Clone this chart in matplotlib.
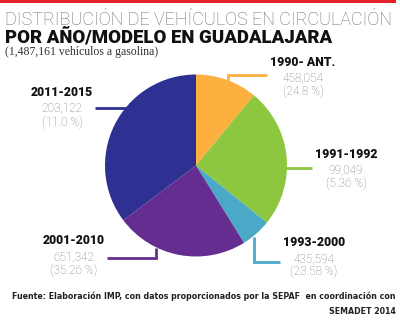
import matplotlib
matplotlib.use("Agg")
import matplotlib.pyplot as plt

# ---- data ----
slice_values = [203122, 458054, 99049, 435594, 651342]   # clockwise from top, as drawn
slice_colors = ["#FBB040", "#8DC63F", "#4BA9C8", "#662D91", "#2E3192"]
label_years = ["1990- ANT.", "1991-1992", "1993-2000", "2001-2010", "2011-2015"]
label_counts = ["458,054", "99,049", "435,594", "651,342", "203,122"]
label_pcts = ["(24.8 %)", "(5.36 %)", "(23.58 %)", "(35.26 %)", "(11.0 %)"]

title1 = "DISTRIBUCIÓN DE VEHÍCULOS EN CIRCULACIÓN"
title2 = "POR AÑO/MODELO EN GUADALAJARA"
subtitle = "(1,487,161 vehículos a gasolina)"
footer1 = "Fuente: Elaboración IMP, con datos proporcionados por la SEPAF  en coordinación con"
footer2 = "SEMADET 2014"

W, H = 400, 326
fig = plt.figure(figsize=(W / 100, H / 100), dpi=100)
ax = fig.add_axes([0, 0, 1, 1])

ax.pie(slice_values, colors=slice_colors, startangle=-90, counterclock=True,
       center=(196, 165.5), radius=91, wedgeprops=dict(linewidth=0))
ax.set_xlim(0, W)
ax.set_ylim(H, 0)
ax.set_aspect("equal")
ax.axis("off")

# red top bar
ax.fill_between([0, 396], 0, 3.2, color="#E3212B", lw=0)

renderer = fig.canvas.get_renderer()


def fit_text(s, x0, x1, y, ha="left", **kw):
    t = ax.text(x0 if ha == "left" else x1, y, s, ha=ha, va="center", **kw)
    fs = t.get_fontsize()
    bb = t.get_window_extent(renderer)
    t.set_fontsize(fs * (x1 - x0) / bb.width)
    return t


fit_text(title1, 5, 392, 20, family="Roboto", weight="light", color="#6D6E71", fontsize=14)
fit_text(title2, 5, 333, 37, family="Roboto", weight="black", color="#111111", fontsize=14)
fit_text(subtitle, 5, 159, 52, family="Liberation Serif", color="#333333", fontsize=9)
f1 = fit_text(footer1, 19, 396, 296, ha="right", family="Liberation Sans Narrow",
              weight="bold", color="#231F20", fontsize=8)
ax.text(396, 312, footer2, ha="right", va="center", family="Liberation Sans Narrow",
        weight="bold", color="#231F20", fontsize=f1.get_fontsize())

# labels: (center x, year y, count y, pct y)
label_pos = [(303, 63, 78, 91), (346, 155, 170, 183), (314, 243, 259, 271),
             (74, 241, 257, 270), (62, 93, 108, 122)]
for yr, cnt, pct, (cx, y1, y2, y3) in zip(label_years, label_counts, label_pcts, label_pos):
    ax.text(cx, y1, yr, ha="center", va="center", family="Roboto", weight="black",
            fontsize=8.8, color="#111111")
    ax.text(cx, y2, cnt, ha="center", va="center", family="Roboto", weight="light",
            fontsize=8.6, color="#808285")
    ax.text(cx, y3, pct, ha="center", va="center", family="Roboto", weight="light",
            fontsize=8.6, color="#808285")

# leader lines
lw = 2.0
leaders = [
    ([228, 228, 267], [81, 75, 75], slice_colors[0]),
    ([285, 312], [168, 168], slice_colors[1]),
    ([254, 254, 280], [237, 262, 262], slice_colors[2]),
    ([156, 156, 107], [248, 258, 258], slice_colors[3]),
    ([128, 95], [107.5, 107.5], slice_colors[4]),
]
for xs, ys, c in leaders:
    ax.plot(xs, ys, color=c, lw=lw, solid_capstyle="butt", solid_joinstyle="miter")

fig.savefig("out.png", dpi=100)
